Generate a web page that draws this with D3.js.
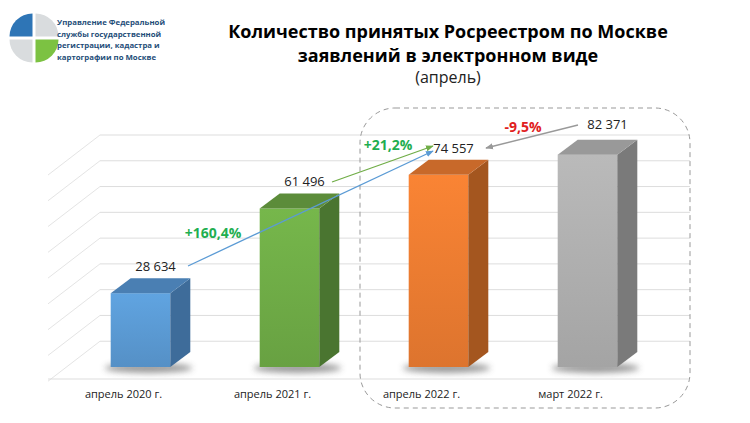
<!DOCTYPE html><html><head><meta charset="utf-8"><script src="https://cdn.jsdelivr.net/npm/d3@7"></script>
<style>body{margin:0;background:#fff}text{font-family:"Open Sans",sans-serif}</style></head><body><svg id="c" width="750" height="423"></svg><script>
const categories=["апрель 2020 г.","апрель 2021 г.","апрель 2022 г.","март 2022 г."];
const values=[28634,61496,74557,82371];
const valueLabels=["28 634","61 496","74 557","82 371"];
const colors=[["#5b9bd5","#3e6c9a","#4a7fb3"],["#70ad47","#4a7530","#5c8c3a"],["#ed7d31","#a4561f","#c8692a"],["#b0b0b0","#7a7a7a","#999"]];
const gridTicks=[10000,20000,30000,40000,50000,60000,70000,80000,90000];
const svg=d3.select("#c");
const x=d3.scaleBand().domain(categories).range([66,662]).paddingInner(0.6).paddingOuter(0.3);
const y=d3.scaleLinear().domain([0,90000]).range([367,135]);
const dx=20,dy=15;
gridTicks.forEach(t=>{svg.append("line").attr("x1",100).attr("x2",690).attr("y1",y(t)).attr("y2",y(t)).attr("stroke","#ddd");
svg.append("line").attr("x1",48).attr("x2",100).attr("y1",y(t)+40).attr("y2",y(t)).attr("stroke","#e4e4e4");});
svg.append("line").attr("x1",48).attr("x2",690).attr("y1",379).attr("y2",379).attr("stroke","#ddd");
const defs=svg.append("defs");
const f=defs.append("filter").attr("id","sh").attr("x","-50%").attr("y","-50%").attr("width","200%").attr("height","200%");
f.append("feGaussianBlur").attr("stdDeviation",3);
values.forEach((v,i)=>{const x0=x(categories[i]),w=x.bandwidth(),t=y(v),b=y(0),c=colors[i];
 svg.append("ellipse").attr("cx",x0+w/2+8).attr("cy",b+1).attr("rx",w/2+14).attr("ry",5).attr("fill","#555").attr("opacity",.6).attr("filter","url(#sh)");
 const g=defs.append("linearGradient").attr("id","g"+i).attr("x1",0).attr("y1",0).attr("x2",0).attr("y2",1);
 g.append("stop").attr("offset",0).attr("stop-color",d3.color(c[0]).brighter(0.15));g.append("stop").attr("offset",1).attr("stop-color",d3.color(c[0]).darker(0.2));
 svg.append("rect").attr("x",x0).attr("y",t).attr("width",w).attr("height",b-t).attr("fill","url(#g"+i+")");
 svg.append("path").attr("d",`M${x0+w},${t}L${x0+w+dx},${t-dy}L${x0+w+dx},${b-dy}L${x0+w},${b}Z`).attr("fill",c[1]);
 svg.append("path").attr("d",`M${x0},${t}L${x0+dx},${t-dy}L${x0+w+dx},${t-dy}L${x0+w},${t}Z`).attr("fill",c[2]);
 svg.append("text").attr("x",x0+w/2+(i==3?20:15)).attr("y",t-22-(i==3?4:0)).attr("text-anchor","middle").attr("font-size",13).attr("fill","#222").text(valueLabels[i]);
 svg.append("text").attr("x",x0+w/2-17).attr("y",398).attr("text-anchor","middle").attr("font-size",11).attr("fill","#222").text(categories[i]);
});
svg.append("rect").attr("x",360).attr("y",108).attr("width",330).attr("height",300).attr("rx",35).attr("fill","none").attr("stroke","#999").attr("stroke-dasharray","5,4");
const mk=(id,col)=>{defs.append("marker").attr("id",id).attr("viewBox","0 0 10 10").attr("refX",9).attr("refY",5).attr("markerWidth",6).attr("markerHeight",6).attr("orient","auto").append("path").attr("d","M0,1L10,5L0,9Z").attr("fill",col);};
mk("ab","#5b9bd5");mk("ag","#70ad47");mk("ay","#999");
const ln=(x1,y1,x2,y2,col,m)=>svg.append("line").attr("x1",x1).attr("y1",y1).attr("x2",x2).attr("y2",y2).attr("stroke",col).attr("stroke-width",1.3).attr("marker-end",`url(#${m})`);
ln(188,266,433,151,"#5b9bd5","ab");ln(332,182,433,146,"#70ad47","ag");ln(578,125,486,148,"#999","ay");
const pct=(t,xx,yy,col)=>svg.append("text").attr("x",xx).attr("y",yy).attr("text-anchor","middle").attr("font-size",14).attr("font-weight","bold").attr("fill",col).text(t);
pct("+160,4%",213,238,"#1fae50");pct("+21,2%",388,150,"#1fae50");pct("-9,5%",523,132,"#e02020");
const T=svg.append("text").attr("text-anchor","middle").attr("font-size",18).attr("font-weight","bold").attr("fill","#000");
T.append("tspan").attr("x",448).attr("y",38).text("Количество принятых Росреестром по Москве");
T.append("tspan").attr("x",448).attr("y",62).text("заявлений в электронном виде");
svg.append("text").attr("x",448).attr("y",83).attr("text-anchor","middle").attr("font-size",16).attr("fill","#222").text("(апрель)");
const cx=34,cy=38,r=23,arc=d3.arc().innerRadius(0).outerRadius(r);
const q=[[-Math.PI/2,0,"#2e75b6",-1.5,-1.5],[0,Math.PI/2,"#d9dcde",1.5,-1.5],[Math.PI/2,Math.PI,"#7cc242",1.5,1.5],[Math.PI,1.5*Math.PI,"#d9dcde",-1.5,1.5]];
q.forEach(a=>svg.append("path").attr("transform",`translate(${cx+a[3]},${cy+a[4]})`).attr("d",arc({startAngle:a[0],endAngle:a[1]})).attr("fill",a[2]));
["Управление Федеральной","службы государственной","регистрации, кадастра и","картографии по Москве"].forEach((s,i)=>svg.append("text").attr("x",57).attr("y",25+i*11.5).attr("font-size",7.8).attr("font-weight","bold").attr("fill","#1f4e79").text(s));
</script></body></html>
